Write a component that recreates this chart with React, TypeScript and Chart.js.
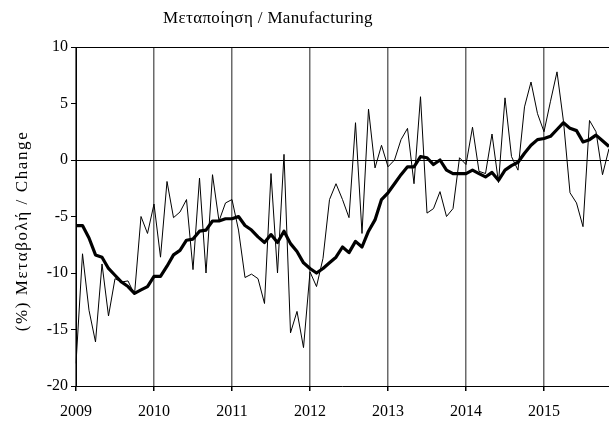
import React, { useEffect, useRef } from 'react';
import { Chart, registerables } from 'chart.js';

Chart.register(...registerables);

const TITLE = 'Μεταποίηση / Manufacturing';
const Y_TITLE = '(%) Μεταβολή / Change';
const FONT = '"Liberation Serif", "DejaVu Serif", serif';

const YEARS = ['2009', '2010', '2011', '2012', '2013', '2014', '2015'];
const MONTHS = ['01', '02', '03', '04', '05', '06', '07', '08', '09', '10', '11', '12'];

// monthly categories Jan 2009 .. Nov 2015
const categories: string[] = [];
YEARS.forEach((y) => MONTHS.forEach((m) => categories.push(`${y}-${m}`)));
categories.splice(83);

// monthly change (thin line)
const monthlyChange = [
  -18.0, -8.3, -13.3, -16.1, -9.2, -13.8, -10.5, -10.8, -10.7, -11.9, -5.0, -6.5,
  -3.9, -8.6, -1.9, -5.1, -4.6, -3.5, -9.7, -1.6, -10.0, -1.3, -5.4, -3.8,
  -3.5, -6.2, -10.4, -10.1, -10.5, -12.7, -1.2, -10.0, 0.5, -15.3, -13.4, -16.6,
  -9.9, -11.2, -8.7, -3.5, -2.1, -3.5, -5.1, 3.3, -6.5, 4.5, -0.7, 1.3,
  -0.6, 0.0, 1.8, 2.8, -2.1, 5.6, -4.7, -4.3, -2.8, -5.0, -4.3, 0.2,
  -0.4, 2.9, -1.0, -1.2, 2.3, -2.0, 5.5, 0.3, -0.9, 4.7, 6.9, 4.1,
  2.5, 5.2, 7.8, 3.4, -2.9, -3.8, -5.9, 3.5, 2.5, -1.3, 1.0,
];

// moving average (thick line)
const movingAverage = [
  -5.8, -5.8, -6.9, -8.4, -8.6, -9.6, -10.2, -10.8, -11.2, -11.8, -11.5, -11.2,
  -10.3, -10.3, -9.4, -8.4, -8.0, -7.1, -7.0, -6.3, -6.2, -5.4, -5.4, -5.2,
  -5.2, -5.0, -5.8, -6.2, -6.8, -7.3, -6.6, -7.3, -6.3, -7.4, -8.1, -9.1,
  -9.6, -10.0, -9.6, -9.1, -8.6, -7.7, -8.2, -7.2, -7.7, -6.3, -5.3, -3.5,
  -2.9, -2.1, -1.3, -0.6, -0.6, 0.3, 0.2, -0.4, 0.0, -0.9, -1.2, -1.2,
  -1.2, -0.9, -1.2, -1.5, -1.1, -1.8, -0.9, -0.5, -0.2, 0.6, 1.3, 1.8,
  1.9, 2.1, 2.7, 3.3, 2.8, 2.6, 1.6, 1.8, 2.2, 1.7, 1.2,
];

const Y_MIN = -20;
const Y_MAX = 10;
const Y_STEP = 5;

const textPlugin = {
  id: 'customTexts',
  afterDraw(chart: any) {
    const ctx = chart.ctx as any;
    ctx.save();
    ctx.fillStyle = '#000';
    ctx.textAlign = 'center';
    ctx.textBaseline = 'middle';
    ctx.font = `17px ${FONT}`;
    ctx.letterSpacing = '0.35px';
    ctx.fillText(TITLE, 268, 19);
    ctx.translate(23, 231);
    ctx.rotate(-Math.PI / 2);
    ctx.font = `17px ${FONT}`;
    ctx.letterSpacing = '1.6px';
    ctx.fillText(Y_TITLE, 0, 0);
    ctx.restore();
  },
};

export default function App() {
  const ref = useRef<HTMLCanvasElement | null>(null);

  useEffect(() => {
    if (!ref.current) return;
    const chart = new Chart(ref.current, {
      type: 'line',
      data: {
        labels: categories,
        datasets: [
          {
            label: 'Monthly',
            data: monthlyChange,
            borderColor: '#000',
            borderWidth: 1,
            pointRadius: 0,
            tension: 0,
            fill: false,
          },
          {
            label: 'Average',
            data: movingAverage,
            borderColor: '#000',
            borderWidth: 3.2,
            pointRadius: 0,
            tension: 0,
            fill: false,
            borderJoinStyle: 'round',
          },
        ],
      },
      options: {
        animation: false,
        responsive: false,
        layout: { padding: { left: 0, right: 0, top: 47, bottom: 0 } },
        plugins: {
          legend: { display: false },
          title: { display: false },
          tooltip: { enabled: false },
        },
        scales: {
          x: {
            type: 'category',
            offset: false,
            afterFit: (s: any) => {
              s.height = 36;
              s.paddingRight = 0;
              s.paddingLeft = 0;
            },
            ticks: {
              autoSkip: false,
              maxRotation: 0,
              minRotation: 0,
              color: '#000',
              padding: 11,
              font: { family: FONT, size: 16 },
              callback: (_v: any, i: number) => (i % 12 === 0 ? categories[i].slice(0, 4) : ''),
            },
            grid: {
              offset: false,
              color: (c: any) => (c.index % 12 === 0 ? '#6a6a6a' : 'rgba(0,0,0,0)'),
              lineWidth: 1.5,
              drawTicks: true,
              tickLength: 5,
              tickColor: (c: any) => (c.index % 12 === 0 ? '#000' : 'rgba(0,0,0,0)'),
            },
            border: { display: true, color: '#000', width: 1 },
          },
          y: {
            min: Y_MIN,
            max: Y_MAX,
            afterFit: (s: any) => {
              s.width = 76;
            },
            ticks: {
              stepSize: Y_STEP,
              color: '#000',
              padding: 3,
              font: { family: FONT, size: 16 },
            },
            grid: {
              color: (c: any) =>
                c.tick && (c.tick.value === 0 || c.tick.value === Y_MAX) ? '#000' : 'rgba(0,0,0,0)',
              lineWidth: 1,
              drawTicks: true,
              tickLength: 5,
              tickColor: '#000',
            },
            border: { display: true, color: '#000', width: 1 },
          },
        },
      },
      plugins: [textPlugin],
    });
    return () => chart.destroy();
  }, []);

  return (
    <div style={{ position: 'absolute', left: 0, top: 0, width: 609, height: 422, background: '#fff' }}>
      <canvas ref={ref} width={609} height={422} style={{ display: 'block' }} />
    </div>
  );
}
